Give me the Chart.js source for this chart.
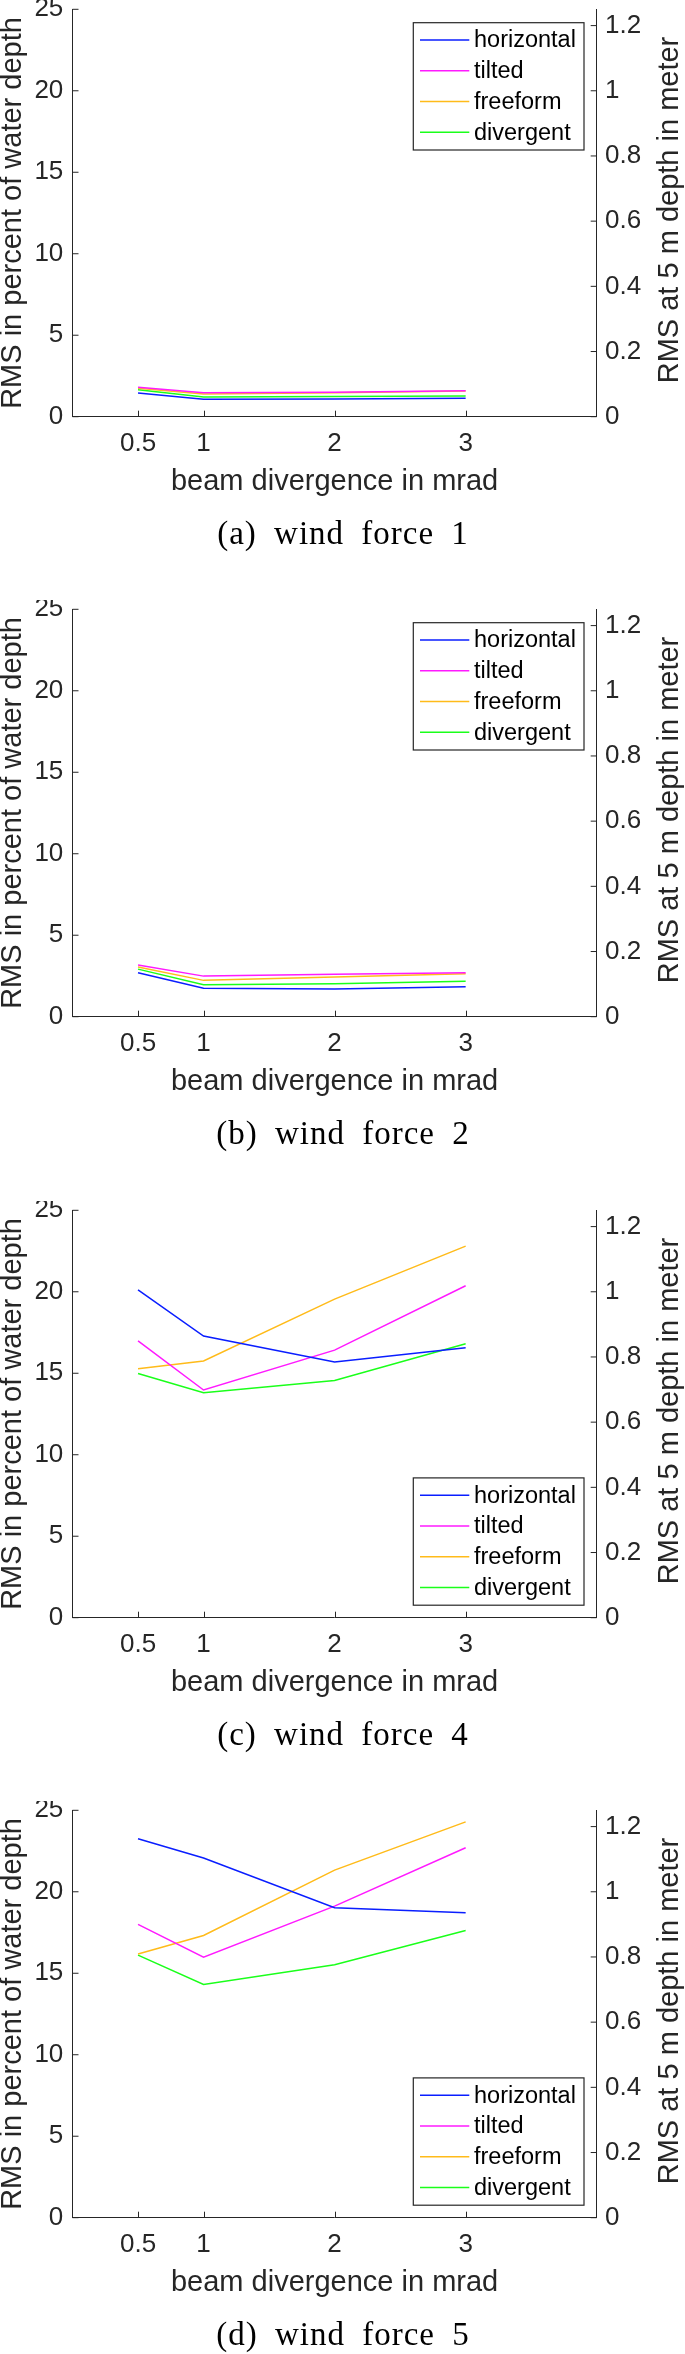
<!DOCTYPE html>
<html>
<head>
<meta charset="utf-8">
<script src="https://cdn.jsdelivr.net/npm/chart.js@4.4.1/dist/chart.umd.min.js"></script>
<style>
  html, body { margin: 0; padding: 0; background: #fff; overflow: hidden; }
  #page { position: relative; width: 685px; height: 2354px; }
  #page canvas { position: absolute; left: 0; }
</style>
</head>
<body>
<div id="page">
  <canvas id="panelA" width="685" height="553" style="top:0px"></canvas>
  <canvas id="panelB" width="685" height="553" style="top:600px"></canvas>
  <canvas id="panelC" width="685" height="553" style="top:1201px"></canvas>
  <canvas id="panelD" width="685" height="553" style="top:1801px"></canvas>
</div>
<script>
const FONT = "'Liberation Sans', Arial, Helvetica, sans-serif";
const SERIF = "'Liberation Serif', 'Times New Roman', serif";
const INK = '#262626';

//x values and tick labels
const beamDivergence = [0.5, 1, 2, 3]; //mrad
const xTickValues = [0.5, 1, 2, 3];
const leftTickValues = [0, 5, 10, 15, 20, 25];
const rightTickValues = [0, 0.2, 0.4, 0.6, 0.8, 1, 1.2];
const seriesNames = ['horizontal', 'tilted', 'freeform', 'divergent'];
const seriesColors = ['#0a1eff', '#ff1aff', '#ffbb1a', '#1aff1a'];

//RMS in percent of water depth, one array per series and wind force
const wf1Horizontal = [1.46, 1.07, 1.09, 1.13];
const wf1Tilted     = [1.80, 1.47, 1.50, 1.60];
const wf1Freeform   = [1.74, 1.40, 1.47, 1.57];
const wf1Divergent  = [1.66, 1.21, 1.24, 1.27];

const wf2Horizontal = [2.70, 1.74, 1.70, 1.84];
const wf2Tilted     = [3.17, 2.49, 2.60, 2.70];
const wf2Freeform   = [3.05, 2.23, 2.43, 2.64];
const wf2Divergent  = [2.92, 1.96, 2.02, 2.17];

const wf4Horizontal = [20.12, 17.28, 15.69, 16.56];
const wf4Tilted     = [16.99, 13.97, 16.42, 20.37];
const wf4Freeform   = [15.28, 15.75, 19.55, 22.80];
const wf4Divergent  = [14.99, 13.80, 14.56, 16.81];

const wf5Horizontal = [23.25, 22.07, 19.02, 18.71];
const wf5Tilted     = [18.00, 15.99, 19.12, 22.70];
const wf5Freeform   = [16.18, 17.32, 21.33, 24.29];
const wf5Divergent  = [16.11, 14.31, 15.52, 17.63];

const captions = ['(a) wind force 1', '(b) wind force 2', '(c) wind force 4', '(d) wind force 5'];

//inward ticks, boxed legend, right axis title and caption (matlab style)
const matlabBits = {
    id: 'matlabBits',
    afterDraw(chart, args, opts) {
        const ctx = chart.ctx;
        const a = chart.chartArea;
        const sx = chart.scales.x, sy = chart.scales.y, sy2 = chart.scales.y2;
        ctx.save();

        //tick marks pointing into the plot
        ctx.strokeStyle = INK;
        ctx.lineWidth = 1;
        ctx.beginPath();
        sx.ticks.forEach(t => {
            const px = Math.round(sx.getPixelForValue(t.value)) + 0.5;
            ctx.moveTo(px, a.bottom); ctx.lineTo(px, a.bottom - 6);
        });
        sy.ticks.forEach(t => {
            const py = sy.getPixelForValue(t.value);
            ctx.moveTo(a.left, py); ctx.lineTo(a.left + 6, py);
        });
        sy2.ticks.forEach(t => {
            const py = sy2.getPixelForValue(t.value);
            ctx.moveTo(a.right, py); ctx.lineTo(a.right - 6, py);
        });
        ctx.stroke();

        //legend box
        const w = 170.7, h = 127.3;
        const left = a.right - 183.4;
        const top = opts.legendAt === 'top' ? a.top + 13.4 : a.bottom - 12.5 - h;
        ctx.fillStyle = '#fff';
        ctx.fillRect(left, top, w, h);
        ctx.strokeStyle = INK;
        ctx.lineWidth = 1.2;
        ctx.strokeRect(left, top, w, h);
        ctx.font = '23.5px ' + FONT;
        ctx.textAlign = 'left';
        ctx.textBaseline = 'middle';
        chart.data.datasets.forEach((ds, i) => {
            const yy = top + 17.3 + i * 30.77;
            ctx.strokeStyle = ds.borderColor;
            ctx.lineWidth = 1.5;
            ctx.beginPath();
            ctx.moveTo(left + 6.7, yy); ctx.lineTo(left + 56, yy);
            ctx.stroke();
            ctx.fillStyle = '#000';
            ctx.fillText(ds.label, left + 60.7, yy + 1);
        });

        //right axis title, reading bottom to top
        ctx.save();
        ctx.translate(669.8, (a.top + a.bottom) / 2 - 3);
        ctx.rotate(-Math.PI / 2);
        ctx.font = '29px ' + FONT;
        ctx.fillStyle = INK;
        ctx.textAlign = 'center';
        ctx.textBaseline = 'middle';
        ctx.fillText('RMS at 5 m depth in meter', 0, 0);
        ctx.restore();

        //caption under the plot
        ctx.font = '33px ' + SERIF;
        ctx.fillStyle = '#000';
        ctx.textAlign = 'center';
        ctx.textBaseline = 'alphabetic';
        if ('letterSpacing' in ctx) ctx.letterSpacing = '1px';
        if ('wordSpacing' in ctx) ctx.wordSpacing = '8px';
        ctx.fillText(opts.caption, 343, a.top + 534.3);
        ctx.restore();
    }
};

function noPad(s) { //keep the layout exactly where it is set
    s.paddingTop = 0; s.paddingBottom = 0; s.paddingLeft = 0; s.paddingRight = 0;
}

function makePanel(canvasId, series, caption, legendAt) {
    const datasets = series.map((values, i) => ({
        label: seriesNames[i],
        data: beamDivergence.map((x, j) => ({x: x, y: values[j]})),
        borderColor: seriesColors[i],
        borderWidth: 1.5,
        pointRadius: 0,
        tension: 0,
        fill: false
    }));
    return new Chart(document.getElementById(canvasId), {
        type: 'line',
        data: {datasets: datasets},
        plugins: [matlabBits],
        options: {
            responsive: false,
            devicePixelRatio: 1,
            animation: false,
            events: [],
            layout: {padding: {top: 9.3, bottom: 53, left: 0, right: 0}},
            scales: {
                x: {
                    type: 'linear',
                    min: 0, max: 4,
                    afterBuildTicks: s => { s.ticks = xTickValues.map(v => ({value: v})); },
                    afterFit: s => { s.height = 83.3; noPad(s); },
                    grid: {display: false, drawTicks: false},
                    border: {display: true, color: INK, width: 1},
                    ticks: {
                        autoSkip: false, maxRotation: 0, padding: 12,
                        color: INK, font: {family: FONT, size: 26},
                        callback: v => String(v)
                    },
                    title: {
                        display: true, text: 'beam divergence in mrad', color: INK,
                        font: {family: FONT, size: 29, lineHeight: 0.87},
                        padding: {top: 0, bottom: 5.7}
                    }
                },
                y: {
                    type: 'linear', position: 'left',
                    min: 0, max: 25,
                    afterBuildTicks: s => { s.ticks = leftTickValues.map(v => ({value: v})); },
                    afterFit: s => { s.width = 72.5; noPad(s); },
                    grid: {display: false, drawTicks: false},
                    border: {display: true, color: INK, width: 1},
                    ticks: {padding: 9.2, color: INK, font: {family: FONT, size: 26}},
                    title: {
                        display: true, text: 'RMS in percent of water depth', color: INK,
                        font: {family: FONT, size: 29, lineHeight: 0.87},
                        padding: {top: 0, bottom: 0}
                    }
                },
                y2: {
                    type: 'linear', position: 'right',
                    min: 0, max: 1.25,
                    afterBuildTicks: s => { s.ticks = rightTickValues.map(v => ({value: v})); },
                    afterFit: s => { s.width = 88.3; noPad(s); },
                    grid: {display: false, drawTicks: false},
                    border: {display: true, color: INK, width: 1},
                    ticks: {
                        padding: 8.3, color: INK, font: {family: FONT, size: 26},
                        callback: v => String(Number(v.toFixed(1)))
                    }
                }
            },
            plugins: {
                legend: {display: false},
                tooltip: {enabled: false},
                matlabBits: {caption: caption, legendAt: legendAt}
            }
        }
    });
}

makePanel('panelA', [wf1Horizontal, wf1Tilted, wf1Freeform, wf1Divergent], captions[0], 'top');
makePanel('panelB', [wf2Horizontal, wf2Tilted, wf2Freeform, wf2Divergent], captions[1], 'top');
makePanel('panelC', [wf4Horizontal, wf4Tilted, wf4Freeform, wf4Divergent], captions[2], 'bottom');
makePanel('panelD', [wf5Horizontal, wf5Tilted, wf5Freeform, wf5Divergent], captions[3], 'bottom');
</script>
</body>
</html>
